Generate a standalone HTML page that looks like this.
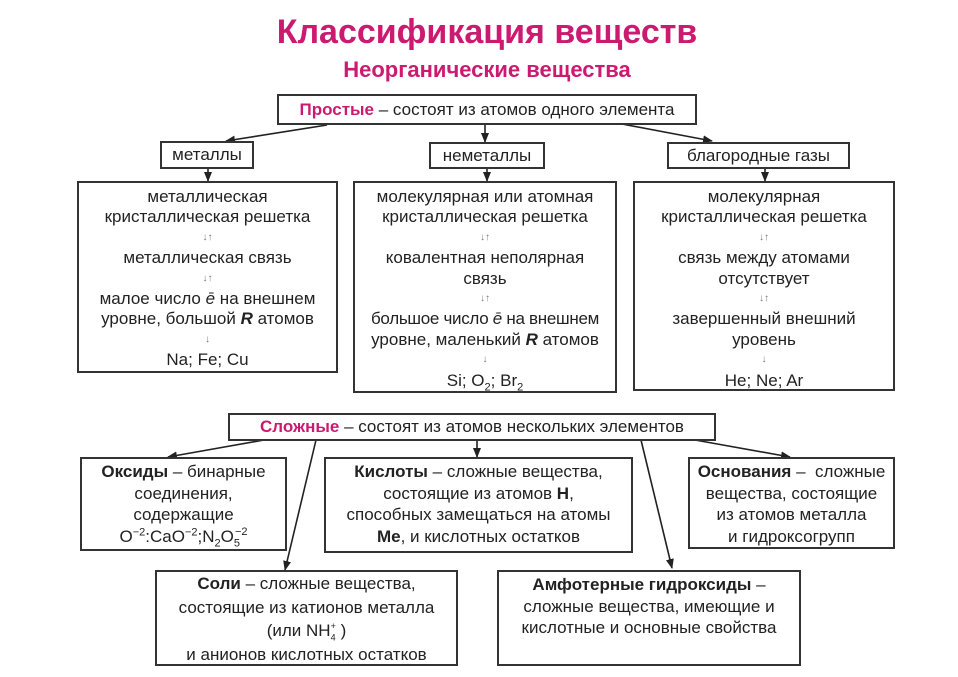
<!DOCTYPE html>
<html><head><meta charset="utf-8"><style>
body{margin:0;width:958px;height:677px;background:#fff;position:relative;overflow:hidden;font-family:"Liberation Sans",sans-serif;color:#222}
.t{position:absolute;left:0;width:958px;text-align:center;color:#cc1a70;font-weight:bold}
.b{position:absolute;border:2px solid #333;box-sizing:border-box;text-align:center;font-size:17px;background:#fff;white-space:nowrap}
.b div{height:20.4px;line-height:20.4px}
.bb div{height:21.5px;line-height:21.5px}
.m{color:#cc1a70;font-weight:bold}
.a{font-size:10px;color:#777}
sub,sup{line-height:0;font-size:11px}
svg{position:absolute;left:0;top:0}
</style></head><body>
<div class="t" style="top:13px;font-size:34px;left:8px">Классификация веществ</div>
<div class="t" style="top:57px;font-size:22px;left:8px">Неорганические вещества</div>
<svg width="958" height="677"><defs><marker id="h" markerWidth="10" markerHeight="8" refX="9" refY="4" orient="auto" markerUnits="userSpaceOnUse"><path d="M0,0L10,4L0,8z" fill="#222"/></marker></defs>
<g stroke="#222" stroke-width="1.6" marker-end="url(#h)">
<line x1="327" y1="125" x2="226" y2="141"/>
<line x1="485" y1="124" x2="485" y2="142"/>
<line x1="622" y1="124" x2="712" y2="141"/>
<line x1="208" y1="168" x2="208" y2="181"/>
<line x1="487" y1="168" x2="487" y2="181"/>
<line x1="765" y1="168" x2="765" y2="181"/>
<line x1="264" y1="440" x2="168" y2="457"/>
<line x1="316" y1="440" x2="285" y2="570"/>
<line x1="477" y1="440" x2="477" y2="457"/>
<line x1="641" y1="440" x2="672" y2="568"/>
<line x1="695" y1="440" x2="790" y2="457"/>
</g></svg>
<div class="b" style="left:277px;top:94px;width:420px;height:31px;line-height:27px"><span class="m">Простые</span> – состоят из атомов одного элемента</div>
<div class="b" style="left:160px;top:141px;width:94px;height:28px;line-height:24px">металлы</div>
<div class="b" style="left:429px;top:142px;width:116px;height:27px;line-height:23px">неметаллы</div>
<div class="b" style="left:667px;top:142px;width:183px;height:27px;line-height:23px">благородные газы</div>
<div class="b" style="left:77px;top:181px;width:261px;height:192px;padding-top:4px"><div>металлическая</div><div>кристаллическая решетка</div><div class="a">↓↑</div><div>металлическая связь</div><div class="a">↓↑</div><div>малое число <i>ē</i> на внешнем</div><div>уровне, большой <b><i>R</i></b> атомов</div><div class="a">↓</div><div>Na; Fe; Cu</div></div>
<div class="b" style="left:353px;top:181px;width:264px;height:212px;padding-top:4px"><div>молекулярная или атомная</div><div>кристаллическая решетка</div><div class="a">↓↑</div><div>ковалентная неполярная</div><div>связь</div><div class="a">↓↑</div><div style="letter-spacing:-0.3px">большое число <i>ē</i> на внешнем</div><div>уровне, маленький <b><i>R</i></b> атомов</div><div class="a">↓</div><div>Si; O<sub>2</sub>; Br<sub>2</sub></div></div>
<div class="b" style="left:633px;top:181px;width:262px;height:210px;padding-top:4px"><div>молекулярная</div><div>кристаллическая решетка</div><div class="a">↓↑</div><div>связь между атомами</div><div>отсутствует</div><div class="a">↓↑</div><div>завершенный внешний</div><div>уровень</div><div class="a">↓</div><div>He; Ne; Ar</div></div>
<div class="b" style="left:228px;top:413px;width:488px;height:28px;line-height:24px"><span class="m">Сложные</span> – состоят из атомов нескольких элементов</div>
<div class="b bb" style="left:80px;top:457px;width:207px;height:94px;padding-top:2px"><div><b>Оксиды</b> – бинарные</div><div>соединения,</div><div>содержащие</div><div>O<sup>−2</sup>:CaO<sup>−2</sup>;N<sub>2</sub>O<sub>5</sub><sup style="margin-left:-5px">−2</sup></div></div>
<div class="b bb" style="left:324px;top:457px;width:309px;height:96px;padding-top:2px"><div><b>Кислоты</b> – сложные вещества,</div><div>состоящие из атомов <b>H</b>,</div><div>способных замещаться на атомы</div><div><b>Me</b>, и кислотных остатков</div></div>
<div class="b bb" style="left:688px;top:457px;width:207px;height:92px;padding-top:2px"><div><b>Основания</b> –&nbsp; сложные</div><div>вещества, состоящие</div><div>из атомов металла</div><div>и гидроксогрупп</div></div>
<div class="b bb" style="left:155px;top:570px;width:303px;height:96px;padding-top:1px"><div style="height:24px"><b>Соли</b> – сложные вещества,</div><div style="height:23px">состоящие из катионов металла</div><div style="height:24px">(или NH<sub style="font-size:9px">4</sub><sup style="font-size:9px;margin-left:-5px">+</sup> )</div><div>и анионов кислотных остатков</div></div>
<div class="b bb" style="left:497px;top:570px;width:304px;height:96px;padding-top:2px"><div><b>Амфотерные гидроксиды</b> –</div><div>сложные вещества, имеющие и</div><div>кислотные и основные свойства</div></div>
</body></html>
